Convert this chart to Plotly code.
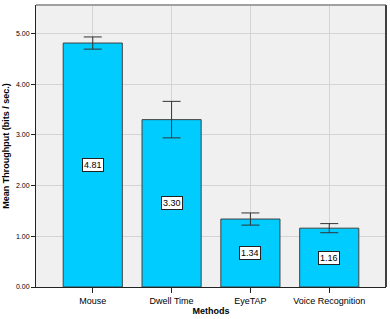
import plotly.graph_objects as go

methods = ["Mouse", "Dwell Time", "EyeTAP", "Voice Recognition"]
means = [4.81, 3.30, 1.34, 1.16]
errors = [0.12, 0.36, 0.12, 0.09]
y_ticks = [0, 1, 2, 3, 4, 5]

fig = go.Figure()
fig.add_trace(go.Bar(
    x=methods, y=means, width=0.75,
    marker=dict(color="#00CCFF", line=dict(color="#404040", width=1)),
    error_y=dict(type="data", array=errors, visible=True, color="#333333",
                 thickness=1, width=9),
    hoverinfo="skip",
))

for m, v in zip(methods, means):
    fig.add_annotation(x=m, y=v / 2, text=f"{v:.2f}", showarrow=False,
                       bgcolor="white", bordercolor="#222222", borderwidth=1,
                       borderpad=1, font=dict(size=9, color="black",
                                              family="Liberation Sans, Arial"))

fig.update_layout(
    width=390, height=319,
    margin=dict(l=36, r=4, t=5, b=32),
    paper_bgcolor="white", plot_bgcolor="#F0F0F0",
    showlegend=False,
    font=dict(family="Liberation Sans, Arial", color="black"),
    xaxis=dict(
        range=[-0.72, 3.72], showgrid=True, gridcolor="#D4D4D4", gridwidth=1,
        ticks="outside", ticklen=5, tickcolor="#222222",
        showline=True, linecolor="#222222", linewidth=1, mirror=False,
        tickfont=dict(size=9), zeroline=False, automargin=False,
        title=dict(text="<b>Methods</b>", font=dict(size=9), standoff=1),
    ),
    yaxis=dict(
        range=[0, 5.56], tickvals=y_ticks, tickformat=".2f",
        showgrid=True, gridcolor="#D4D4D4", gridwidth=1,
        ticks="outside", ticklen=4, tickcolor="#222222",
        showline=True, linecolor="#222222", linewidth=1,
        tickfont=dict(size=7), zeroline=False, automargin=False,
        title=dict(text="<b>Mean Throughput (bits / sec.)</b>", font=dict(size=9), standoff=4),
    ),
    shapes=[
        dict(type="line", xref="paper", yref="paper", x0=0, x1=1, y0=1, y1=1,
             line=dict(color="#A0A0A0", width=2)),
        dict(type="line", xref="paper", yref="paper", x0=1, x1=1, y0=0, y1=1,
             line=dict(color="#404040", width=2)),
    ],
)

fig.write_html("out.html", config={"displayModeBar": False},
               post_script="document.body.style.margin='0';document.body.style.overflow='hidden';")
